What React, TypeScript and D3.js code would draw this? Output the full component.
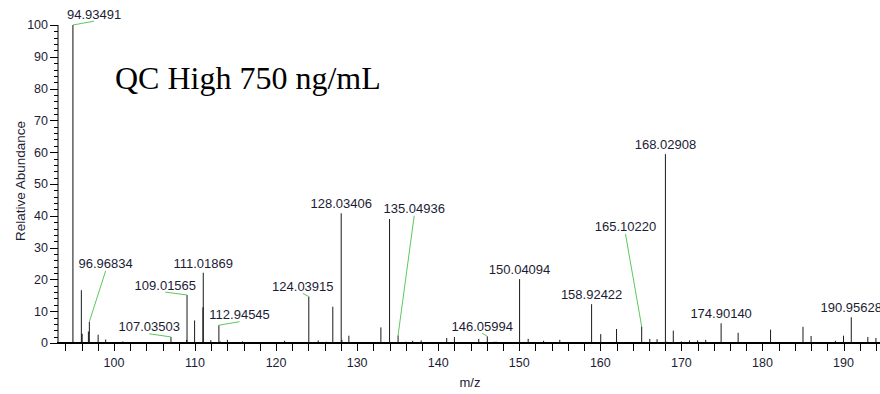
import React from "react";
import * as d3 from "d3";

// ---- data ----
const peakMz = [
  94.93491, 95.98, 96.08, 96.85, 96.96834, 98.05, 98.98, 100.0, 101.1,
  107.03503, 108.98, 109.01565, 109.95, 110.98, 111.01869, 111.95, 112.94545, 113.1,
  114.0, 115.85, 121.05, 124.03915, 125.2, 126.2, 127.0, 128.03406, 128.12,
  128.98, 129.9, 130.35, 130.9, 132.93, 134.0, 135.04936, 136.0, 136.85, 137.9,
  141.05, 142.0, 143.0, 145.0, 146.05994, 146.9, 147.15, 150.04094, 151.1,
  153.0, 155.0, 158.92422, 160.05, 162.0, 165.1022, 166.1, 167.0, 168.02908,
  168.2, 169.0, 170.0, 171.0, 172.0, 173.0, 174.9014, 177.0, 181.0, 185.0,
  186.0, 189.0, 190.0, 190.95628, 193.0, 194.0,
];
const peakAbundance = [
  100, 16.6, 2.9, 3.6, 6.7, 2.6, 1.1, 0.3, 0.5,
  1.9, 1.0, 15.1, 7.1, 11.2, 22.1, 0.9, 5.6, 0.5,
  1.0, 0.5, 0.7, 14.6, 0.8, 0.4, 11.4, 40.8, 1.0,
  2.3, 0.3, 0.3, 0.3, 4.9, 39.0, 2.4, 0.4, 0.7, 0.8,
  1.6, 1.9, 0.3, 1.3, 2.1, 0.4, 0.4, 20.1, 1.3,
  0.7, 1.0, 12.2, 2.8, 4.4, 5.2, 1.3, 1.2, 59.4,
  0.4, 3.9, 0.5, 0.8, 0.8, 1.0, 6.2, 3.2, 4.2, 5.1,
  2.2, 0.7, 2.3, 8.1, 1.9, 1.6,
];

// annotated peaks: text, and (for leader-line labels) where the label sits, in data units
const labelText = [
  "94.93491", "96.96834", "107.03503", "109.01565", "111.01869", "112.94545",
  "124.03915", "128.03406", "135.04936", "146.05994", "150.04094", "158.92422",
  "165.10220", "168.02908", "174.90140", "190.95628",
];
const labelAtMz: (number | null)[] = [
  97.55, 98.98, 104.36, 106.34, null, 115.5,
  123.3, null, 137.04, 145.43, null, null,
  163.1, null, null, null,
];
const labelAtAbundance: (number | null)[] = [
  101.2, 22.7, 2.9, 16.0, null, 6.7,
  15.6, null, 40.0, 3.05, null, null,
  34.3, null, null, null,
];

const xTickValues = [100, 110, 120, 130, 140, 150, 160, 170, 180, 190];
const yTickValues = [0, 10, 20, 30, 40, 50, 60, 70, 80, 90, 100];

const titleText = "QC High 750 ng/mL";
const xTitle = "m/z";
const yTitle = "Relative Abundance";

export default function App() {
  const W = 880;
  const H = 394;
  const x = d3.scaleLinear().domain([93.1, 194.5]).range([58, 880]);
  const y = d3.scaleLinear().domain([0, 100]).range([343, 25]);

  const xMinor = d3.range(94, 195, 2);
  const yMinor = d3.range(0, 101, 2);
  const sans = "'Liberation Sans', Arial, sans-serif";
  const textColor = "#1c1c34";

  return (
    <svg
      width={W}
      height={H}
      style={{ position: "absolute", left: 0, top: 0, background: "#fff" }}
      fontFamily={sans}
    >
      {/* title */}
      <text x={115} y={89} fontFamily="'Liberation Serif', 'Times New Roman', serif" fontSize={32} fill="#000">
        {titleText}
      </text>

      {/* peaks */}
      {peakMz.map((m, i) => (
        <line
          key={"p" + i}
          x1={x(m)}
          x2={x(m)}
          y1={y(0)}
          y2={y(peakAbundance[i])}
          stroke="#000"
          strokeWidth={i === 0 ? 1.6 : 1}
          strokeOpacity={i === 0 ? 0.6 : 0.9}
        />
      ))}

      {/* labels */}
      {labelText.map((t, i) => {
        const m = parseFloat(t);
        const idx = peakMz.findIndex((p) => Math.abs(p - m) < 1e-6);
        const ab = peakAbundance[idx];
        const px = x(m);
        const py = y(ab);
        const lm = labelAtMz[i];
        const la = labelAtAbundance[i];
        if (lm !== null && la !== null) {
          const lx = x(lm);
          const ly = y(la);
          return (
            <g key={"l" + i}>
              <line x1={px} y1={py} x2={lx} y2={ly} stroke="#5cc85c" strokeWidth={1} />
              <text x={lx} y={ly - 2.5} textAnchor="middle" fontSize={13} fill={textColor}>
                {t}
              </text>
            </g>
          );
        }
        return (
          <text key={"l" + i} x={px} y={py - 5} textAnchor="middle" fontSize={13} fill={textColor}>
            {t}
          </text>
        );
      })}

      {/* y axis */}
      <line x1={58} x2={58} y1={y(100)} y2={y(0)} stroke="#000" strokeWidth={1} />
      {yMinor.map((v) => (
        <line
          key={"ym" + v}
          x1={v % 10 === 0 ? 50 : 54}
          x2={58}
          y1={Math.round(y(v)) + 0.5}
          y2={Math.round(y(v)) + 0.5}
          stroke="#000"
          strokeWidth={1}
        />
      ))}
      {yTickValues.map((v) => (
        <text
          key={"yt" + v}
          x={48}
          y={y(v)}
          dy="0.35em"
          textAnchor="end"
          fontSize={12.5}
          fill={textColor}
        >
          {v}
        </text>
      ))}
      <text
        transform={`translate(25,181) rotate(-90)`}
        textAnchor="middle"
        fontSize={13.5}
        fill={textColor}
      >
        {yTitle}
      </text>

      {/* x axis */}
      <line x1={57} x2={880} y1={343} y2={343} stroke="#000" strokeWidth={2} />
      {xMinor.map((v) => (
        <line
          key={"xm" + v}
          x1={Math.round(x(v)) + 0.5}
          x2={Math.round(x(v)) + 0.5}
          y1={343}
          y2={351}
          stroke="#000"
          strokeWidth={1}
        />
      ))}
      {xTickValues.map((v) => (
        <text key={"xt" + v} x={x(v)} y={367} textAnchor="middle" fontSize={12.5} fill={textColor}>
          {v}
        </text>
      ))}
      <text x={470} y={387} textAnchor="middle" fontSize={13} fill={textColor}>
        {xTitle}
      </text>
    </svg>
  );
}
